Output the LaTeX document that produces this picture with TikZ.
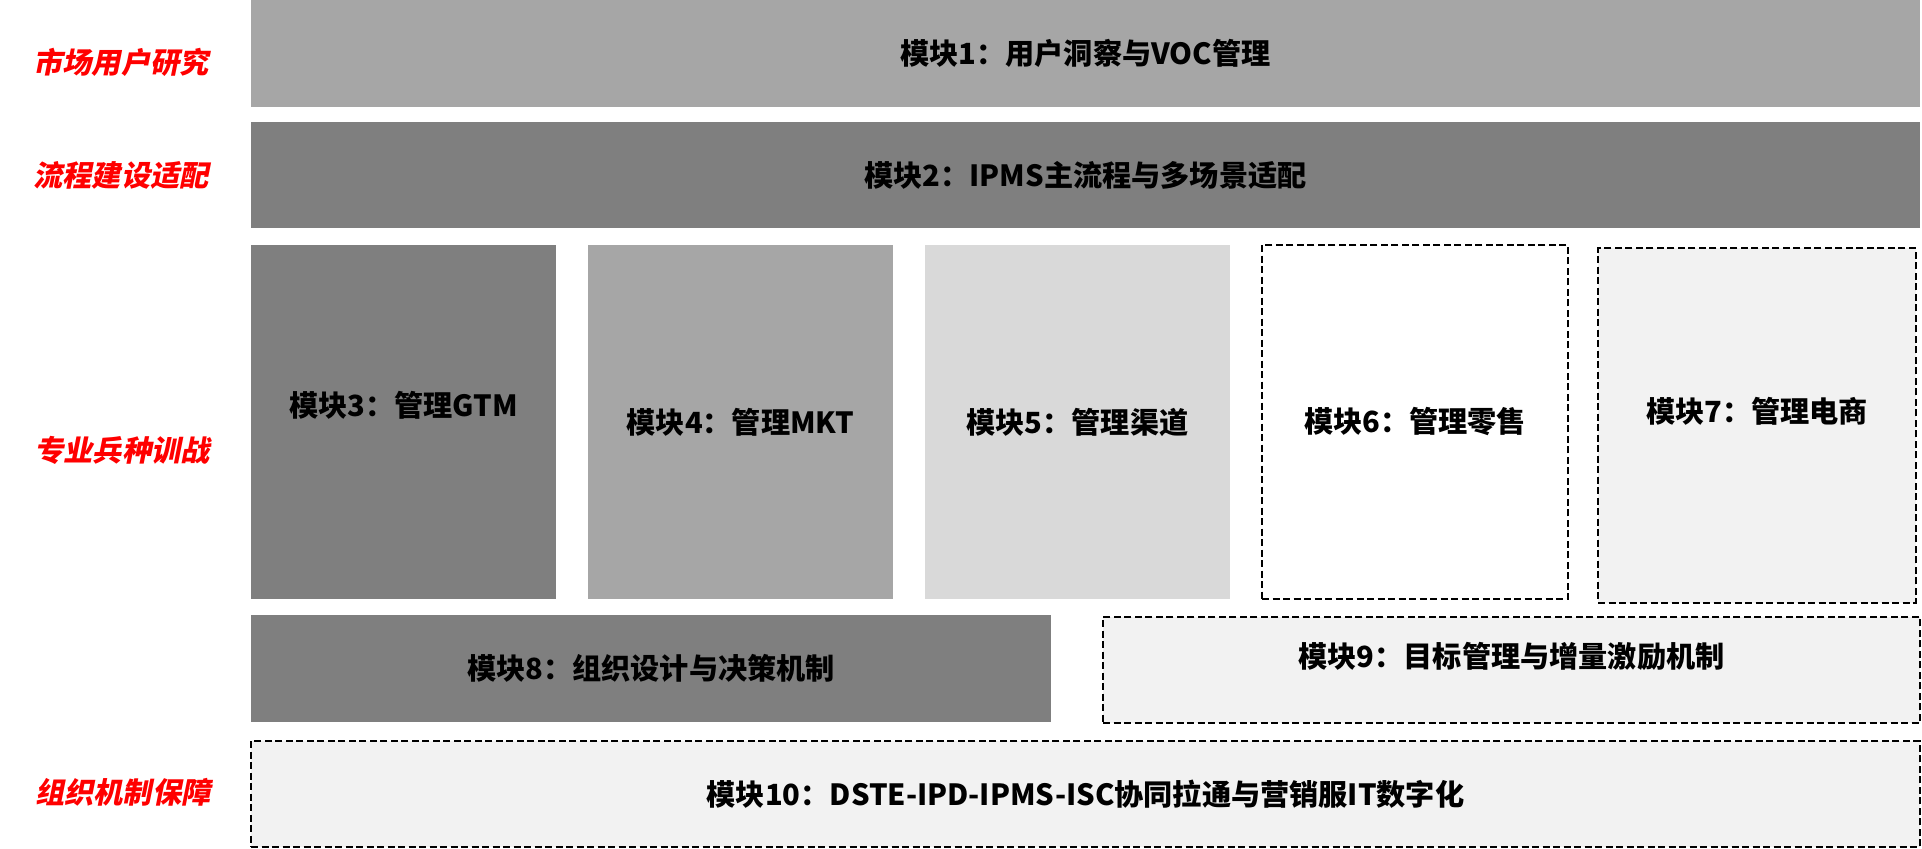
\documentclass[tikz,border=0pt]{standalone}
\usepackage{fontspec}
\setmainfont{Noto Sans CJK SC}
\newfontfamily\sidefont{Noto Sans CJK SC}[FakeSlant=0.2]
\usetikzlibrary{positioning}
\definecolor{grayA}{HTML}{A6A6A6}
\definecolor{grayB}{HTML}{7F7F7F}
\definecolor{grayC}{HTML}{D9D9D9}
\definecolor{grayD}{HTML}{F2F2F2}

\begin{document}
\begin{tikzpicture}[
  node distance=0.32cm and 0.32cm,
  modbox/.style={rectangle,outer sep=0pt,inner sep=0pt,align=center,text=black,
    font=\bfseries\fontsize{8.3}{10}\selectfont},
  dashbox/.style={modbox,draw=black,line width=0.02cm,dash pattern=on 0.07cm off 0.035cm},
  colbox/.style={modbox,minimum width=3.05cm,minimum height=3.54cm},
  sidelabel/.style={text=red,font=\sidefont\bfseries\fontsize{8.3}{10}\selectfont}
]
\useasboundingbox (0,0) rectangle (19.22,-8.49);

\node[sidelabel] (l1) at (1.21,-0.62) {市场用户研究};
\node[sidelabel] (l2) at (1.21,-1.75) {流程建设适配};
\node[sidelabel] (l3) at (1.22,-4.50) {专业兵种训战};
\node[sidelabel] (l4) at (1.23,-7.92) {组织机制保障};

\node[modbox,fill=grayA,minimum width=16.69cm,minimum height=1.07cm] (m1) at (10.855,-0.535) {模块1：用户洞察与VOC管理};
\node[modbox,fill=grayB,minimum width=16.69cm,minimum height=1.06cm] (m2) at (10.855,-1.75) {模块2：IPMS主流程与多场景适配};

\node[colbox,fill=grayB,label={[modbox,yshift=0.17cm]center:模块3：管理GTM}] (m3) at (4.035,-4.22) {};
\node[colbox,fill=grayA,right=of m3] (m4) {模块4：管理MKT};
\node[colbox,fill=grayC,right=of m4] (m5) {模块5：管理渠道};
\node[colbox,dashbox,fill=white,right=of m5,minimum width=3.06cm] (m6) {模块6：管理零售};
\node[colbox,dashbox,fill=grayD,right=0.30cm of m6,yshift=-0.035cm,minimum width=3.18cm,
  label={[modbox,yshift=0.14cm]center:模块7：管理电商}] (m7) {};

\node[modbox,fill=grayB,minimum width=8.00cm,minimum height=1.07cm] (m8) at (6.51,-6.685) {模块8：组织设计与决策机制};
\node[dashbox,fill=grayD,minimum width=8.17cm,minimum height=1.06cm,
  label={[modbox,yshift=0.14cm]center:模块9：目标管理与增量激励机制}] (m9) at (15.115,-6.70) {};

\node[dashbox,fill=grayD,minimum width=16.69cm,minimum height=1.06cm] (m10) at (10.855,-7.94) {模块10：DSTE-IPD-IPMS-ISC协同拉通与营销服IT数字化};

\end{tikzpicture}
\end{document}
